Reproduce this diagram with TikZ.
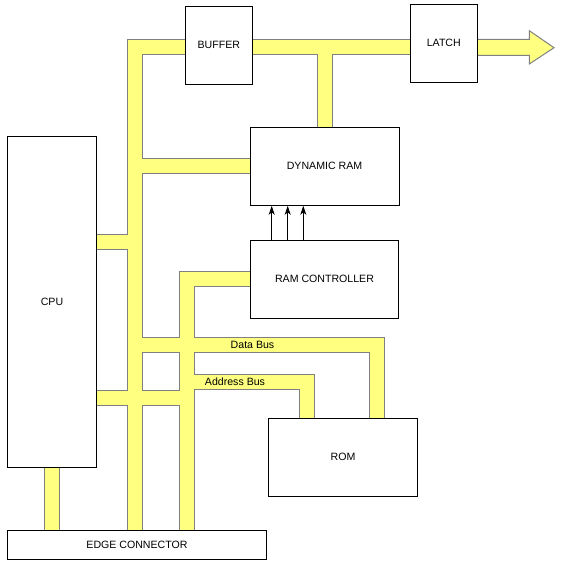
\documentclass[tikz,border=0pt]{standalone}
\usepackage{fontspec}
\setmainfont{Liberation Sans}
\usepackage{xcolor}
\usepackage{tikz}
\usetikzlibrary{arrows.meta,backgrounds}
\definecolor{busyellow}{RGB}{255,255,128}
\definecolor{busgray}{RGB}{128,128,128}

\begin{document}
\begin{tikzpicture}[x=1pt,y=-1pt,
		box/.style={draw, fill=white, line width=1pt, inner sep=0pt, font=\fontsize{10.6}{12}\selectfont},
		bus/.style={draw=busyellow, line width=14pt, line join=miter, preaction={draw=busgray, line width=16pt}},
		lbl/.style={inner sep=0pt, font=\fontsize{10.6}{12}\selectfont},
		ctrl/.style={line width=0.9pt, -{Stealth[length=9pt,width=6pt,inset=2.5pt]}}]
	\useasboundingbox (0,0) rectangle (562,569);
	% blocks
	\node[box, minimum width=89.4, minimum height=330] (cpu) at (52,302) {CPU};
	\node[box, minimum width=67, minimum height=78] (buf) at (218.8,45.3) {BUFFER};
	\node[box, minimum width=67, minimum height=77.7] (latch) at (443.8,43.2) {LATCH};
	\node[box, minimum width=149, minimum height=78] (dram) at (324.5,166.3) {DYNAMIC RAM};
	\node[box, minimum width=148.5, minimum height=78] (ctl) at (324.5,279.3) {RAM CONTROLLER};
	\node[box, minimum width=149.4, minimum height=78] (rom) at (343,457.3) {ROM};
	\node[box, minimum width=259.4, minimum height=29] (edge) at (137,544.8) {EDGE CONNECTOR};
	\node[lbl] (dlab) at (252.5,345) {Data Bus};
	\node[lbl] (alab) at (235,382) {Address Bus};
	% control lines
	\foreach \dx in {-52.8,-36.8,-21.2}
		\draw[ctrl] ([xshift=\dx pt]ctl.north) -- ([xshift=\dx pt]dram.south);
	% buses
	\begin{pgfonlayer}{background}
		\coordinate (main) at (134.5,47.5);
		\coordinate (tap) at (325.3,47.5);
		\coordinate (adr) at (187.3,280);
		\coordinate (dat) at (377.3,345.3);
		\coordinate (abus) at (307.3,382.3);
		\coordinate (c1) at (0,242.3);
		\coordinate (c2) at (0,398.3);
		\draw[bus] (edge.north -| main) -- (main) -- (latch.west |- main)
			(tap) -- (dram.north -| tap)
			(main |- dram.west) -- (dram.west)
			(cpu.east |- c1) -- (main |- c1)
			(ctl.west -| dram.west) -- (ctl.west -| adr) -- (edge.north -| adr)
			(main |- dat) -- (dat) -- (rom.north -| dat)
			(adr |- abus) -- (abus) -- (rom.north -| abus)
			(cpu.east |- c2) -- (adr |- c2)
			(cpu.south) -- (cpu.south |- edge.north);
		\draw[busgray, fill=busyellow, line width=1pt] (477,39.5) -- (529.3,39.5) -- (529.3,30.7) -- (554,47.7)
			-- (529.3,64) -- (529.3,55.5) -- (477,55.5) -- cycle;
	\end{pgfonlayer}
\end{tikzpicture}
\end{document}
